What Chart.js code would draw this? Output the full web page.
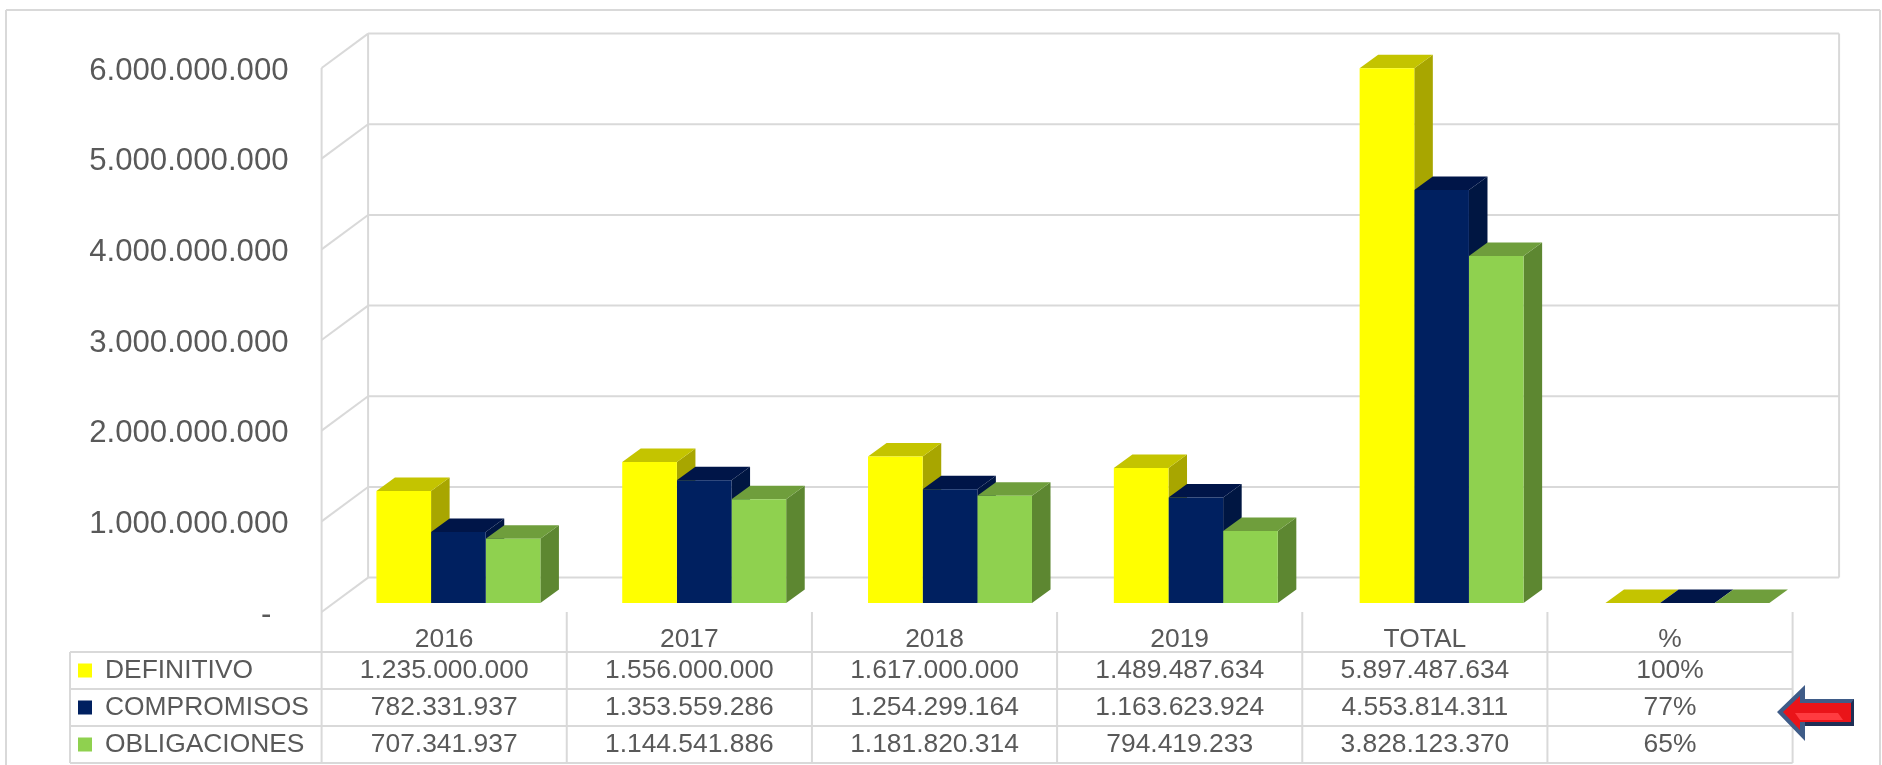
<!DOCTYPE html>
<html>
<head>
<meta charset="utf-8">
<style>html,body{margin:0;padding:0;background:#fff}canvas{display:block}</style>
<script src="https://cdn.jsdelivr.net/npm/chart.js@4/dist/chart.umd.min.js"></script>
</head>
<body>
<canvas id="c" width="1882" height="765"></canvas>
<script>
const categories = ['2016','2017','2018','2019','TOTAL','%'];
const seriesNames = ['DEFINITIVO','COMPROMISOS','OBLIGACIONES'];
const definitivo = [1235000000,1556000000,1617000000,1489487634,5897487634,1];
const compromisos = [782331937,1353559286,1254299164,1163623924,4553814311,0.77];
const obligaciones = [707341937,1144541886,1181820314,794419233,3828123370,0.65];
const yTicks = [0,1000000000,2000000000,3000000000,4000000000,5000000000,6000000000];
const frontColors = ['#FFFF00','#002060','#8FD14F'];
const topColors = ['#C4C400','#001548','#6F9E3C'];
const sideColors = ['#A8A600','#001642','#5D8731'];

const GREY = '#595959', LINE = '#D9D9D9', FONT = '"Liberation Sans", Arial, sans-serif';
const fmt = v => v <= 1 ? Math.round(v * 100) + '%' : String(v).replace(/\B(?=(\d{3})+(?!\d))/g, '.');

const BAR_DEPTH = {x: 18.5, y: 13.5};
const WALL = {x: 46.5, y: -34.4};

function line(ctx, x1, y1, x2, y2) {
  ctx.beginPath(); ctx.moveTo(x1, y1); ctx.lineTo(x2, y2); ctx.stroke();
}
function poly(ctx, pts, color) {
  ctx.fillStyle = color; ctx.beginPath();
  pts.forEach((p, i) => i ? ctx.lineTo(p[0], p[1]) : ctx.moveTo(p[0], p[1]));
  ctx.closePath(); ctx.fill();
}
// bars stand on a plane set back from the front of the axis box
function toBarPlane(ctx) {
  ctx.translate(14, -9);
  ctx.translate(362.5, 0);
  ctx.scale(1.0026, 1);
  ctx.translate(-362.5, 0);
}

const chart3d = {
  id: 'chart3d',
  beforeDraw(chart) {
    const ctx = chart.ctx, a = chart.chartArea, y = chart.scales.y;
    ctx.save();
    ctx.fillStyle = '#fff'; ctx.fillRect(0, 0, chart.width, chart.height);
    ctx.strokeStyle = LINE; ctx.lineWidth = 2;
    // outer frame
    line(ctx, 6, 10, 1880, 10); line(ctx, 6, 10, 6, 765); line(ctx, 1880, 10, 1880, 765);
    // walls
    yTicks.forEach(t => {
      const py = y.getPixelForValue(t);
      line(ctx, a.left, py, a.left + WALL.x, py + WALL.y);
      line(ctx, a.left + WALL.x, py + WALL.y, a.right + WALL.x, py + WALL.y);
    });
    line(ctx, a.left, a.top, a.left, a.bottom);
    line(ctx, a.left + WALL.x, a.top + WALL.y, a.left + WALL.x, a.bottom + WALL.y);
    line(ctx, a.right + WALL.x, a.top + WALL.y, a.right + WALL.x, a.bottom + WALL.y);
    ctx.restore();
  },
  beforeDatasetsDraw(chart) {
    // top and side faces go first; the library then paints the front faces over them
    const ctx = chart.ctx;
    ctx.save();
    toBarPlane(ctx);
    const dx = BAR_DEPTH.x, dy = BAR_DEPTH.y;
    [0, 1, 2].forEach(i => {
      chart.getDatasetMeta(i).data.forEach(el => {
        const l = el.x - el.width / 2, r = el.x + el.width / 2, t = el.y, b = el.base;
        poly(ctx, [[r, t], [r + dx, t - dy], [r + dx, b - dy], [r, b]], sideColors[i]);
        poly(ctx, [[l, t], [l + dx, t - dy], [r + dx, t - dy], [r, t]], topColors[i]);
      });
    });
    ctx.restore();
  },
  beforeDatasetDraw(chart) {
    chart.ctx.save();
    toBarPlane(chart.ctx);
  },
  afterDatasetDraw(chart) { chart.ctx.restore(); },
  afterDraw(chart) {
    const ctx = chart.ctx, x = chart.scales.x, a = chart.chartArea;
    const rows = [652, 689, 726, 763], tableLeft = 70;
    const colW = (a.right - a.left) / categories.length;
    ctx.save();
    ctx.strokeStyle = LINE; ctx.lineWidth = 2;
    rows.forEach(r => line(ctx, tableLeft, r, a.right, r));
    line(ctx, tableLeft, rows[0], tableLeft, rows[3]);
    for (let i = 0; i <= categories.length; i++) {
      const px = a.left + i * colW;
      line(ctx, px, a.bottom, px, rows[3]);
    }
    const all = [definitivo, compromisos, obligaciones];
    ctx.font = '26.4px ' + FONT; ctx.textBaseline = 'middle'; ctx.fillStyle = GREY;
    all.forEach((vals, r) => {
      const cy = (rows[r] + rows[r + 1]) / 2;
      ctx.fillStyle = frontColors[r]; ctx.fillRect(78, cy - 7, 14, 14);
      ctx.fillStyle = GREY; ctx.textAlign = 'left';
      ctx.fillText(seriesNames[r], 105, cy);
      ctx.textAlign = 'center';
      vals.forEach((v, c) => ctx.fillText(fmt(v), x.getPixelForValue(c), cy));
    });
    // block arrow annotation
    poly(ctx, [[1777,712],[1805,685],[1805,699],[1854,699],[1854,726],[1805,726],[1805,741]], '#3F5C88');
    poly(ctx, [[1805,722],[1851,722],[1851,703],[1854,699],[1854,726],[1805,726]], '#1F2F55');
    poly(ctx, [[1783,712],[1800,696],[1800,703],[1851,703],[1851,722],[1800,722],[1800,730]], '#EA1419');
    poly(ctx, [[1795,713],[1838,713],[1843,720],[1800,720]], '#FF3B40');
    ctx.restore();
  }
};

new Chart(document.getElementById('c'), {
  type: 'bar',
  data: {
    labels: categories,
    datasets: [
      {label: seriesNames[0], data: definitivo, backgroundColor: frontColors[0]},
      {label: seriesNames[1], data: compromisos, backgroundColor: frontColors[1]},
      {label: seriesNames[2], data: obligaciones, backgroundColor: frontColors[2]}
    ]
  },
  options: {
    responsive: false,
    animation: false,
    events: [],
    layout: {padding: {top: 68, right: 89.4, bottom: 93, left: 0}},
    datasets: {bar: {categoryPercentage: 0.667, barPercentage: 1, borderWidth: 0, minBarLength: 0}},
    plugins: {legend: {display: false}, title: {display: false}, tooltip: {enabled: false}},
    scales: {
      x: {
        grid: {display: false, drawTicks: false},
        border: {display: false},
        ticks: {color: GREY, font: {family: FONT, size: 26.4}, padding: 12, maxRotation: 0},
        afterFit: s => { s.height = 60; }
      },
      y: {
        min: 0, max: 6000000000,
        afterBuildTicks: s => { s.ticks = yTicks.map(v => ({value: v})); },
        grid: {display: false, drawTicks: false},
        border: {display: false},
        ticks: {
          color: GREY, font: {family: FONT, size: 31.2, lineHeight: 0.19}, padding: 33,
          // the empty first line nudges the label below the grid corner, as in the reference
          callback: v => ['', v === 0 ? '-  ' : fmt(v)]
        },
        afterFit: s => { s.width = 321.6; }
      }
    }
  },
  plugins: [chart3d]
});
</script>
</body>
</html>
